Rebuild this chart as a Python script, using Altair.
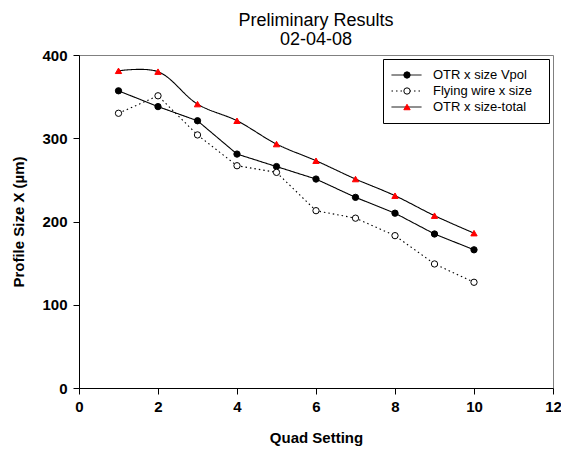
import altair as alt
import pandas as pd

quad = [1, 2, 3, 4, 5, 6, 7, 8, 9, 10]
vpol = [357, 338, 321, 281, 266, 251, 229, 210, 185, 166]
flying = [330, 351, 304, 267, 259, 213, 204, 183, 149, 127]
total = [381, 380, 341, 321, 293, 273, 251, 231, 207, 186]
names = ["OTR x size Vpol", "Flying wire x size", "OTR x size-total"]
codes = ["a", "b", "c"]
x_ticks = [0, 2, 4, 6, 8, 10, 12]
y_ticks = [0, 100, 200, 300, 400]

FONT = "Liberation Sans"

rows = []
for name, code, vals in zip(names, codes, [vpol, flying, total]):
    for q, v in zip(quad, vals):
        rows.append({"quad": q, "size": v, "series": name, "marker": code})
df = pd.DataFrame(rows)

legend_a = alt.Legend(
    orient="none", legendX=304, legendY=4,
    title=".", titleOrient="right", titleColor="transparent", titleFontSize=13, titlePadding=5,
    symbolType="stroke", symbolSize=900, symbolStrokeWidth=1,
    padding=8, strokeColor="black", fillColor="white",
    labelFont=FONT, labelFontSize=13, labelColor="black", labelOffset=11,
    clipHeight=16, rowPadding=0,
)
legend_b = alt.Legend(
    orient="none", legendX=304, legendY=4, title=None,
    padding=8, clipHeight=16, rowPadding=0, symbolStrokeWidth=1,
    symbolOffset=11, labelExpr="''", labelOffset=0,
)

x_enc = alt.X("quad:Q", scale=alt.Scale(domain=[0, 12], nice=False),
              axis=alt.Axis(values=x_ticks, title="Quad Setting", labelPadding=5,
                            titlePadding=16, labelFlush=False))
y_enc = alt.Y("size:Q", scale=alt.Scale(domain=[0, 400], nice=False),
              axis=alt.Axis(values=y_ticks, title="Profile Size X (µm)", labelPadding=6,
                            titlePadding=15))

color_enc = alt.Color("series:N", scale=alt.Scale(domain=names, range=["black", "black", "black"]), legend=legend_a)
dash_enc = alt.StrokeDash("series:N", scale=alt.Scale(domain=names, range=[[1, 0], [1.5, 3], [1, 0]]), legend=legend_a)

base = alt.Chart(df)

lines_straight = base.transform_filter(
    alt.FieldOneOfPredicate(field="series", oneOf=names[:2])
).mark_line(strokeWidth=1.1).encode(x=x_enc, y=y_enc, color=color_enc, strokeDash=dash_enc)

line_smooth = base.transform_filter(
    alt.FieldEqualPredicate(field="series", equal=names[2])
).mark_line(strokeWidth=1.1, interpolate="catmull-rom").encode(x=x_enc, y=y_enc, color=color_enc, strokeDash=dash_enc)

points = base.mark_point(filled=True, opacity=1, strokeWidth=1).encode(
    x=x_enc, y=y_enc,
    shape=alt.Shape("marker:N", scale=alt.Scale(domain=codes, range=["circle", "circle", "triangle-up"]), legend=legend_b),
    fill=alt.Fill("marker:N", scale=alt.Scale(domain=codes, range=["black", "white", "red"]), legend=legend_b),
    stroke=alt.Stroke("marker:N", scale=alt.Scale(domain=codes, range=["black", "black", "red"]), legend=legend_b),
    size=alt.Size("marker:N", scale=alt.Scale(domain=codes, range=[40, 40, 60]), legend=legend_b),
)

chart = alt.layer(lines_straight, line_smooth, points).properties(
    width=474, height=333,
    autosize=alt.AutoSizeParams(type="none"),
    padding={"left": 71, "top": 47, "right": 8, "bottom": 62},
    title=alt.TitleParams(
        text=["Preliminary Results", "02-04-08"], font=FONT, fontSize=18,
        fontWeight="normal", color="black", anchor="middle", frame="group",
        offset=-1, lineHeight=19,
    ),
).configure_view(
    stroke="#808080", strokeWidth=1
).configure_axis(
    grid=False, domainColor="black", tickColor="black", tickSize=6,
    labelFont=FONT, labelFontSize=15, labelFontWeight="bold", labelColor="black",
    titleFont=FONT, titleFontSize=15, titleFontWeight="bold", titleColor="black",
)

chart.save("out.html", embed_options={"renderer": "svg", "actions": False})
